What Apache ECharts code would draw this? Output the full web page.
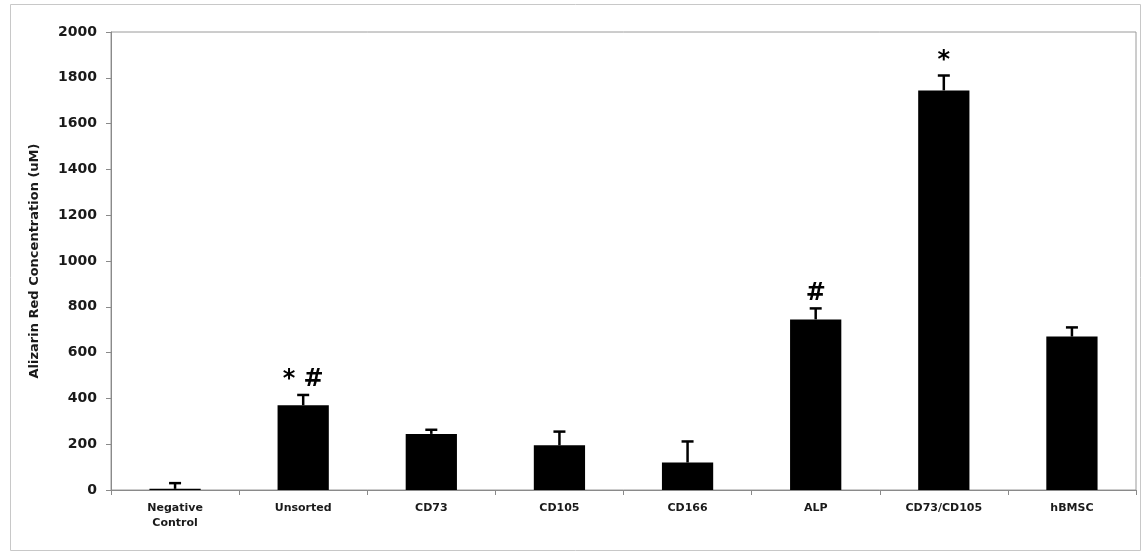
<!DOCTYPE html>
<html>
<head>
<meta charset="utf-8">
<script src="https://cdn.jsdelivr.net/npm/echarts@6/dist/echarts.min.js"></script>
<style>
  html, body { margin: 0; padding: 0; background: #fff; }
  #chart { width: 1145px; height: 554px; }
</style>
</head>
<body>
<div id="chart"></div>
<script>
// Cell populations tested for mineralisation
const categories = ['Negative\nControl', 'Unsorted', 'CD73', 'CD105', 'CD166', 'ALP', 'CD73/CD105', 'hBMSC'];
// Mean Alizarin Red concentration (uM)
const means = [5, 370, 245, 195, 120, 745, 1745, 670];
// Upper error (SD) for each group
const errors = [25, 45, 18, 60, 92, 48, 65, 40];
// Significance markers drawn above each group
const marks = ['', '* #', '', '', '', '#', '*', ''];
// Y axis range
const yMin = 0, yMax = 2000, yStep = 200;

const chart = echarts.init(document.getElementById('chart'));
const fontFamily = '"DejaVu Sans", Verdana, sans-serif';

chart.setOption({
  animation: false,
  backgroundColor: '#fff',
  graphic: [{
    type: 'rect',
    shape: { x: 10.5, y: 4.5, width: 1130, height: 546 },
    style: { fill: 'none', stroke: '#c8c8c8', lineWidth: 1 },
    silent: true
  }],
  grid: {
    left: 111, right: 9, top: 32, bottom: 64,
    show: true, borderColor: '#9a9a9a', borderWidth: 1
  },
  xAxis: {
    type: 'category',
    data: categories,
    axisLine: { lineStyle: { color: '#8a8a8a', width: 1 } },
    axisTick: { show: true, alignWithLabel: false, length: 5, lineStyle: { color: '#8a8a8a' } },
    axisLabel: {
      color: '#1a1a1a', fontFamily, fontWeight: 'bold', fontSize: 11,
      margin: 11, lineHeight: 15, interval: 0
    }
  },
  yAxis: {
    type: 'value',
    min: yMin, max: yMax, interval: yStep,
    name: 'Alizarin Red Concentration (uM)',
    nameLocation: 'middle',
    nameGap: 70,
    nameTextStyle: { color: '#1a1a1a', fontFamily, fontWeight: 'bold', fontSize: 13 },
    splitLine: { show: false },
    axisLine: { show: true, lineStyle: { color: '#8a8a8a', width: 1 } },
    axisTick: { show: true, length: 5, lineStyle: { color: '#8a8a8a' } },
    axisLabel: {
      color: '#1a1a1a', fontFamily, fontWeight: 'bold', fontSize: 14, margin: 14,
      formatter: v => String(v)
    }
  },
  series: [
    {
      type: 'bar',
      data: means,
      barWidth: '40%',
      itemStyle: { color: '#000' },
      z: 2
    },
    {
      // Upper error whiskers with caps, plus significance markers
      type: 'custom',
      z: 3,
      data: means.map((m, i) => [i, m, m + errors[i]]),
      renderItem: function (params, api) {
        const i = api.value(0);
        const base = api.coord([i, api.value(1)]);
        const top = api.coord([i, api.value(2)]);
        const cap = 6;
        const children = [
          { type: 'line', shape: { x1: base[0], y1: base[1], x2: top[0], y2: top[1] },
            style: { stroke: '#000', lineWidth: 2.5 } },
          { type: 'line', shape: { x1: top[0] - cap, y1: top[1], x2: top[0] + cap, y2: top[1] },
            style: { stroke: '#000', lineWidth: 2.5 } }
        ];
        const label = marks[params.dataIndex];
        if (label) {
          children.push({
            type: 'text',
            style: {
              x: top[0], y: top[1] - 3, text: label,
              fill: '#000', font: 'bold 24px "DejaVu Sans", sans-serif',
              align: 'center', verticalAlign: 'bottom'
            }
          });
        }
        return { type: 'group', children };
      }
    }
  ]
});
</script>
</body>
</html>
